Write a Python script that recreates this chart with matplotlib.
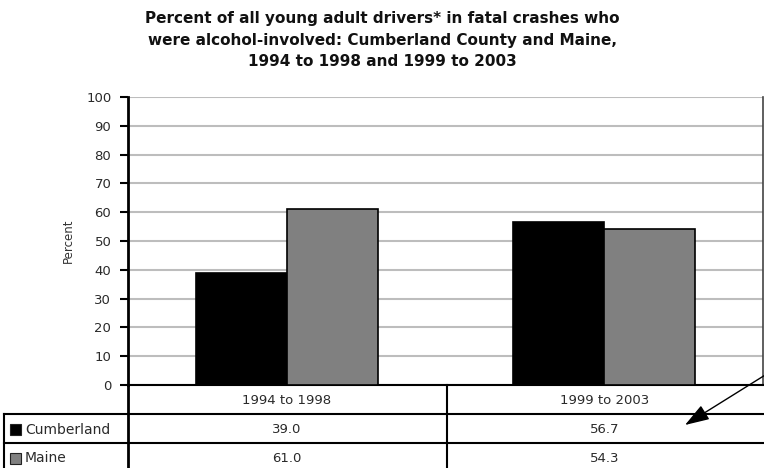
import matplotlib
matplotlib.use("Agg")
import matplotlib.pyplot as plt
import numpy as np
from matplotlib.lines import Line2D
from matplotlib.patches import Rectangle

# ---- data ----
categories = ["1994 to 1998", "1999 to 2003"]
series_names = ["Cumberland", "Maine"]
cumberland = [39.0, 56.7]
maine = [61.0, 54.3]
series_colors = ["#000000", "#808080"]
y_ticks = [0, 10, 20, 30, 40, 50, 60, 70, 80, 90, 100]
title = ("Percent of all young adult drivers* in fatal crashes who\n"
         "were alcohol-involved: Cumberland County and Maine,\n"
         "1994 to 1998 and 1999 to 2003")
y_label = "Percent"

plt.rcParams['font.family'] = ['DejaVu Sans']

W, H = 764, 468
fig = plt.figure(figsize=(W / 100, H / 100), dpi=100)
fig.patch.set_facecolor("white")

# plot area in pixels
L, R, T, B = 128, 763, 97, 385
ax = fig.add_axes([L / W, (H - B) / H, (R - L) / W, (B - T) / H])

x = np.arange(len(categories))
bw = 0.287
values = [cumberland, maine]
for i, (vals, col) in enumerate(zip(values, series_colors)):
    ax.bar(x + (i - 0.5) * bw, vals, width=bw, color=col,
           edgecolor="black", linewidth=1.2, zorder=3)

ax.set_xlim(-0.5, len(categories) - 0.5)
ax.set_ylim(0, 100)
ax.set_yticks(y_ticks)
ax.set_yticklabels([str(t) for t in y_ticks], fontsize=9.5, color="#2a2a2a")
ax.set_xticks([])
ax.tick_params(axis="y", direction="out", length=6, width=1.5, pad=6, color="black")
ax.yaxis.grid(True, color="#bdbdbd", linewidth=1.5, zorder=0)
ax.set_axisbelow(True)
ax.spines["top"].set_visible(False)
ax.spines["left"].set_linewidth(2)
ax.spines["bottom"].set_linewidth(1.5)
ax.spines["right"].set_linewidth(1.2)
ax.spines["right"].set_color("#444444")

ax.set_ylabel(y_label, fontsize=8.5, color="#333333", labelpad=8)

fig.text(0.5, (H - 40) / H, title, ha="center", va="center",
         fontsize=11, fontweight="bold", linespacing=1.55, color="#111111")

# ---- data table below the plot (pixel layout helpers) ----
def fx(px):
    return px / W

def fy(py):
    return (H - py) / H

def hline(px0, px1, py, lw=1.5):
    fig.add_artist(Line2D([fx(px0), fx(px1)], [fy(py), fy(py)],
                          transform=fig.transFigure, color="black", lw=lw))

def vline(px, py0, py1, lw=1.5):
    fig.add_artist(Line2D([fx(px), fx(px)], [fy(py0), fy(py1)],
                          transform=fig.transFigure, color="black", lw=lw))

row_top = [385, 414, 443]
row_h = 29
col_div = 447
hline(4, R, 414)
hline(4, R, 443)
vline(4, 414, H + 2)
vline(L, 385, H + 2, lw=2)
vline(col_div, 385, H + 2)

def cat_fx(xi):
    disp = ax.transData.transform((xi, 0))
    return fig.transFigure.inverted().transform(disp)[0]

# header: category names, centered on category positions
for xi, cat in zip(x, categories):
    fig.text(cat_fx(xi), fy(row_top[0] + row_h / 2 + 1), cat, ha="center",
             va="center", fontsize=9.5, color="#2a2a2a")

for r, (name, vals, col) in enumerate(zip(series_names, values, series_colors)):
    ytop = row_top[r + 1]
    yc = ytop + row_h / 2 + 1
    fig.add_artist(Rectangle((fx(10), fy(yc + 5.5)), 11 / W, 11 / H,
                             transform=fig.transFigure, facecolor=col,
                             edgecolor="#222222", linewidth=0.8))
    fig.text(fx(25), fy(yc), name, ha="left", va="center",
             fontsize=10, color="#2a2a2a")
    for xi, v in zip(x, vals):
        fig.text(cat_fx(xi), fy(yc), f"{v:.1f}", ha="center", va="center",
                 fontsize=9.5, color="#2a2a2a")

# annotation arrow coming from the right edge
ax.annotate("", xy=(685, H - 425), xycoords="figure pixels",
            xytext=(770, H - 372), textcoords="figure pixels",
            arrowprops=dict(arrowstyle="-|>,head_length=1.5,head_width=0.5",
                            mutation_scale=10, color="black", lw=1.0,
                            shrinkA=0, shrinkB=0),
            annotation_clip=False)

fig.savefig("out.png", dpi=100, facecolor="white")
